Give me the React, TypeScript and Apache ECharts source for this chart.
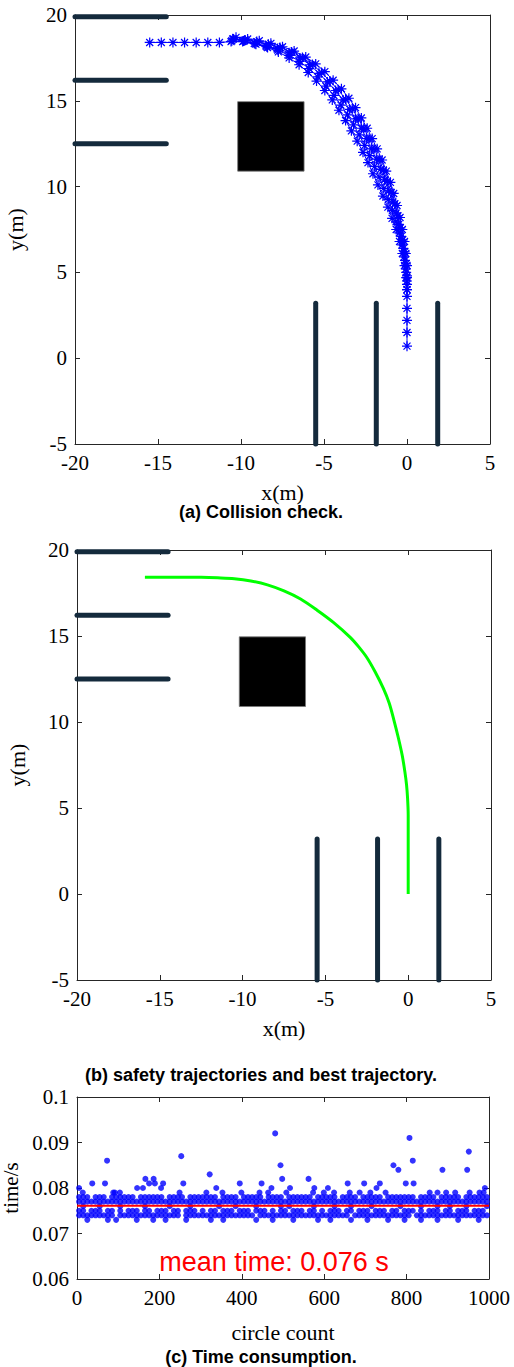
import React, { useEffect, useRef } from "react";
import * as echarts from "echarts";

// ---------- data ----------
// obstacles: horizontal bars [x1, x2, y], vertical bars [x, y1, y2]
const OBST_H = [
  [-20, -14.5, 19.9],
  [-20, -14.5, 16.2],
  [-20, -14.5, 12.5],
];
const OBST_V = [
  [-5.5, -5, 3.2],
  [-1.85, -5, 3.2],
  [1.85, -5, 3.2],
];
// black block [x1, y1, x2, y2]
const BLOCK = [[-10.2, 10.9, -6.2, 14.95]];

// (a) candidate trajectories (asterisk markers)
const TRAJ_MAIN = [
  [-15.5, 18.4], [-14.8, 18.4], [-14.1, 18.4], [-13.4, 18.4], [-12.7, 18.4], [-12.0, 18.4],
  [-11.3, 18.4], [-10.6, 18.45], [-9.9, 18.45], [-9.2, 18.35], [-8.5, 18.2], [-7.8, 18.05],
  [-7.1, 17.8], [-6.45, 17.5], [-5.85, 17.1], [-5.3, 16.6], [-4.8, 16.1], [-4.3, 15.6],
  [-3.85, 15.05], [-3.45, 14.5], [-3.1, 13.95], [-2.75, 13.4], [-2.45, 12.8], [-2.15, 12.2],
  [-1.85, 11.6], [-1.6, 11.0], [-1.35, 10.4], [-1.1, 9.75], [-0.85, 9.1], [-0.65, 8.45],
  [-0.5, 7.8], [-0.35, 7.1], [-0.22, 6.4], [-0.12, 5.7], [-0.05, 5.0], [0, 4.3], [0, 3.6],
  [0, 2.9], [0, 2.2], [0, 1.5], [0, 0.7],
];
const TRAJ_OUTER = [
  [-10.3, 18.7], [-9.6, 18.6], [-8.9, 18.5], [-8.2, 18.35], [-7.5, 18.15], [-6.8, 17.9],
  [-6.1, 17.55], [-5.5, 17.15], [-4.95, 16.7], [-4.45, 16.2], [-3.95, 15.7], [-3.5, 15.15],
  [-3.1, 14.6], [-2.75, 14.0], [-2.4, 13.4], [-2.1, 12.8], [-1.8, 12.2], [-1.5, 11.55],
  [-1.25, 10.9], [-1.0, 10.25], [-0.8, 9.6], [-0.6, 8.9], [-0.42, 8.2], [-0.28, 7.5],
  [-0.15, 6.8], [-0.07, 6.1], [0, 5.4], [0, 4.7], [0, 4.0],
];
const TRAJ_MID_OUT = [
  [-10.45, 18.6], [-9.75, 18.55], [-9.05, 18.45], [-8.35, 18.3], [-7.65, 18.1], [-6.95, 17.85],
  [-6.3, 17.52], [-5.7, 17.12], [-5.15, 16.65], [-4.65, 16.15], [-4.15, 15.65], [-3.7, 15.1],
  [-3.3, 14.55], [-2.95, 13.97], [-2.6, 13.4], [-2.28, 12.8], [-1.98, 12.2], [-1.68, 11.58],
  [-1.42, 10.95], [-1.18, 10.3], [-0.95, 9.65], [-0.73, 9.0], [-0.55, 8.3], [-0.4, 7.6],
  [-0.26, 6.9], [-0.14, 6.2], [-0.06, 5.5], [0, 4.8],
];
const TRAJ_MID_IN = [
  [-10.55, 18.5], [-9.85, 18.48], [-9.15, 18.33], [-8.45, 18.15], [-7.78, 17.95], [-7.1, 17.65],
  [-6.48, 17.3], [-5.9, 16.88], [-5.38, 16.4], [-4.88, 15.85], [-4.4, 15.32], [-3.98, 14.75],
  [-3.58, 14.18], [-3.22, 13.6], [-2.88, 13.02], [-2.55, 12.4], [-2.25, 11.8], [-1.95, 11.18],
  [-1.68, 10.55], [-1.4, 9.9], [-1.13, 9.25], [-0.88, 8.6], [-0.66, 7.95], [-0.47, 7.3],
  [-0.3, 6.6], [-0.17, 5.9], [-0.07, 5.2], [0, 4.5],
];
const TRAJ_INNER = [
  [-10.5, 18.6], [-9.8, 18.5], [-9.1, 18.3], [-8.4, 18.1], [-7.75, 17.85], [-7.1, 17.5],
  [-6.5, 17.1], [-5.95, 16.65], [-5.45, 16.15], [-4.95, 15.6], [-4.5, 15.05], [-4.1, 14.45],
  [-3.7, 13.85], [-3.35, 13.25], [-3.0, 12.65], [-2.65, 12.0], [-2.35, 11.4], [-2.05, 10.75],
  [-1.75, 10.1], [-1.45, 9.45], [-1.15, 8.8], [-0.9, 8.15], [-0.65, 7.5], [-0.45, 6.8],
  [-0.28, 6.1], [-0.15, 5.4], [-0.05, 4.7], [0, 4.0],
];

// (b) best trajectory
const BEST = [
  [-15.9, 18.42], [-14, 18.42], [-12.5, 18.41], [-11.5, 18.38], [-10.5, 18.33], [-9.5, 18.2],
  [-8.5, 17.97], [-7.5, 17.62], [-6.5, 17.15], [-5.5, 16.5], [-4.5, 15.78], [-3.5, 14.92],
  [-3.0, 14.38], [-2.5, 13.75], [-2.0, 12.92], [-1.5, 11.95], [-1.15, 11.1], [-0.86, 10.1],
  [-0.6, 9.1], [-0.36, 8.05], [-0.2, 7.1], [-0.1, 6.35], [-0.04, 5.6], [0, 4.6], [0, 0],
];

// (c) time consumption: presence strings per level, one char per 10 counts
const LEVELS = [0.073, 0.074, 0.075, 0.076, 0.077, 0.078];
const ROWS = [
  "0010000101000010001001000010000010010000000100010000100000100100001000100001000100010001000010000100",
  "1111111110111111111111111011111111111111111011111111111111111111110111111111111110111111111111111111",
  "1101110110101110110111011011101011011101110111010110111011010111011011101110110111010111011011101110",
  "0100010000100000100000100001000000100010000100000101000001000010001000010000001000010001001000100001",
  "1111111111111111111111111111111111111111111111111111111111111111111111111111111111111111111111111111",
  "1110111011111101111110111101111111011110111110111101111110111110111101111101111111011110111110111111",
];
const ROW079 = [14, 88, 92, 104, 249, 314, 353, 399, 443, 464, 508, 573, 599, 624, 662, 686, 712, 749, 856, 875, 896, 918, 953, 977, 987];
const OUTLIERS = [
  [5, 0.080], [37, 0.081], [68, 0.081], [73, 0.086], [146, 0.080], [160, 0.080], [166, 0.082],
  [175, 0.081], [186, 0.082], [189, 0.081], [204, 0.080], [209, 0.081], [253, 0.087], [258, 0.081],
  [322, 0.083], [338, 0.080], [395, 0.081], [448, 0.081], [472, 0.080], [481, 0.092], [494, 0.085],
  [498, 0.082], [517, 0.080], [562, 0.082], [576, 0.080], [609, 0.080], [657, 0.081], [697, 0.081],
  [727, 0.080], [735, 0.081], [768, 0.085], [780, 0.084], [798, 0.081], [807, 0.091], [815, 0.086],
  [817, 0.081], [887, 0.084], [947, 0.084], [951, 0.088], [990, 0.080],
];
const MEAN_TIME = 0.0761;
const MEAN_LABEL = "mean time: 0.076 s";

// ---------- helpers ----------
const SERIF = "Liberation Serif";
const SANS = "Liberation Sans";
const AX = "#262626";
const ASTERISK = "path://M5 0L5 10M0 5L10 5M1.5 1.5L8.5 8.5M1.5 8.5L8.5 1.5";

function axisPair(kind: "x" | "y", grid: number, min: number, max: number, interval: number, name?: string, nameGap?: number, nameSize = 22) {
  const base: any = {
    type: "value",
    gridIndex: grid,
    min,
    max,
    interval,
    splitLine: { show: false },
    axisLine: { show: true, onZero: false, lineStyle: { color: AX, width: 1 } },
    axisTick: { show: true, inside: true, length: 5, lineStyle: { color: AX } },
  };
  const main = {
    ...base,
    position: kind === "x" ? "bottom" : "left",
    name,
    nameLocation: "middle",
    nameGap,
    nameTextStyle: { fontFamily: SERIF, fontSize: nameSize, color: "#000", lineHeight: nameSize },
    axisLabel: { color: "#000", fontFamily: SERIF, fontSize: 21, margin: 8, formatter: (v: number) => String(v) },
  };
  const second = {
    ...base,
    position: kind === "x" ? "top" : "right",
    axisLabel: { show: false },
  };
  return [main, second];
}

function obstacleSeries(xi: number, yi: number) {
  const s: any[] = [];
  const style = { color: "#142a3c", width: 5, cap: "round" };
  OBST_H.forEach(([x1, x2, y]) =>
    s.push({ type: "line", xAxisIndex: xi, yAxisIndex: yi, data: [[x1, y], [x2, y]], symbol: "none", clip: false, lineStyle: style, silent: true, z: 3 })
  );
  OBST_V.forEach(([x, y1, y2]) =>
    s.push({ type: "line", xAxisIndex: xi, yAxisIndex: yi, data: [[x, y1], [x, y2]], symbol: "none", clip: false, lineStyle: style, silent: true, z: 3 })
  );
  s.push({
    type: "custom",
    xAxisIndex: xi,
    yAxisIndex: yi,
    data: BLOCK,
    renderItem: (params: any, api: any) => {
      const p1 = api.coord([api.value(0), api.value(3)]);
      const p2 = api.coord([api.value(2), api.value(1)]);
      return {
        type: "rect",
        shape: { x: p1[0], y: p1[1], width: p2[0] - p1[0], height: p2[1] - p1[1] },
        style: { fill: "#000", stroke: "#777", lineWidth: 0.8 },
      };
    },
    z: 2,
  });
  return s;
}

function trajSeries(data: number[][]) {
  return {
    type: "line",
    xAxisIndex: 0,
    yAxisIndex: 0,
    data,
    symbol: ASTERISK,
    symbolSize: 10,
    showSymbol: true,
    lineStyle: { color: "#0000ff", width: 1 },
    itemStyle: { color: "#0000ff", borderColor: "#0000ff", borderWidth: 1.2 },
    z: 5,
  };
}

export default function App() {
  const ref = useRef<HTMLDivElement>(null);
  useEffect(() => {
    document.body.style.margin = "0";
    if (!ref.current) return;
    const chart = echarts.init(ref.current, undefined, { renderer: "svg" });

    const scatterData: number[][] = [];
    ROWS.forEach((row, li) => {
      for (let i = 0; i < row.length; i++) if (row[i] === "1") scatterData.push([i * 10 + 5, LEVELS[li]]);
    });
    ROW079.forEach((x) => scatterData.push([x, 0.079]));
    OUTLIERS.forEach((p) => scatterData.push(p));

    const [xa0, xa1] = axisPair("x", 0, -20, 5, 5, "x(m)", 37);
    const [ya0, ya1] = axisPair("y", 0, -5, 20, 5, "y(m)", 49);
    const [xb0, xb1] = axisPair("x", 1, -20, 5, 5, "x(m)", 37);
    const [yb0, yb1] = axisPair("y", 1, -5, 20, 5, "y(m)", 49);
    const [xc0, xc1] = axisPair("x", 2, 0, 1000, 200, "circle count", 42);
    const [yc0, yc1] = axisPair("y", 2, 0.06, 0.1, 0.01, "time/s", 47, 21);

    const gridBase = { outerBoundsMode: "none", containLabel: false };
    chart.setOption({
      animation: false,
      backgroundColor: "#fff",
      grid: [
        { ...gridBase, left: 75, top: 15, width: 415, height: 429 },
        { ...gridBase, left: 77, top: 550, width: 414, height: 430 },
        { ...gridBase, left: 77, top: 1097, width: 412, height: 182 },
      ],
      xAxis: [xa0, xa1, xb0, xb1, xc0, xc1],
      yAxis: [ya0, ya1, yb0, yb1, yc0, yc1],
      series: [
        ...obstacleSeries(0, 0),
        trajSeries(TRAJ_MAIN),
        trajSeries(TRAJ_OUTER),
        trajSeries(TRAJ_MID_OUT),
        trajSeries(TRAJ_MID_IN),
        trajSeries(TRAJ_INNER),
        ...obstacleSeries(2, 2),
        {
          type: "line",
          xAxisIndex: 2,
          yAxisIndex: 2,
          data: BEST,
          smooth: 0.3,
          symbol: "none",
          lineStyle: { color: "#00ff00", width: 3 },
          z: 5,
        },
        {
          type: "scatter",
          xAxisIndex: 4,
          yAxisIndex: 4,
          data: scatterData,
          symbol: "circle",
          symbolSize: 6,
          itemStyle: { color: "#0000ff" },
          z: 3,
        },
        {
          type: "line",
          xAxisIndex: 4,
          yAxisIndex: 4,
          data: [[0, MEAN_TIME], [1000, MEAN_TIME]],
          symbol: "none",
          lineStyle: { color: "#ff0000", width: 2 },
          z: 4,
        },
      ],
      graphic: [
        { type: "text", x: 261, y: 512, style: { text: "(a) Collision check.", font: `bold 18px "${SANS}"`, fill: "#000", textAlign: "center", textVerticalAlign: "middle" } },
        { type: "text", x: 261, y: 1075, style: { text: "(b) safety trajectories and best trajectory.", font: `bold 18px "${SANS}"`, fill: "#000", textAlign: "center", textVerticalAlign: "middle" } },
        { type: "text", x: 261, y: 1357, style: { text: "(c) Time consumption.", font: `bold 18px "${SANS}"`, fill: "#000", textAlign: "center", textVerticalAlign: "middle" } },
        { type: "text", x: 274, y: 1262, z: 10, style: { text: MEAN_LABEL, font: `27px "${SANS}"`, fill: "#ff0000", textAlign: "center", textVerticalAlign: "middle" } },
      ],
    });
    return () => chart.dispose();
  }, []);
  return <div ref={ref} style={{ width: 514, height: 1367 }} />;
}
